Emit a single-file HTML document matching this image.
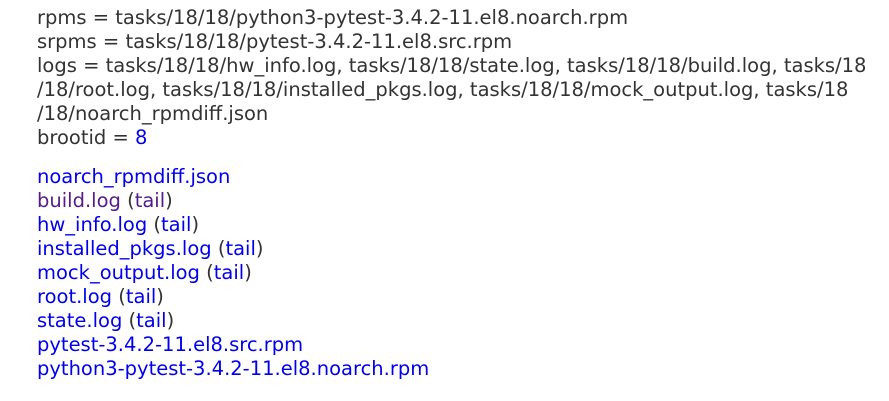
<!DOCTYPE html>
<html><head><meta charset="utf-8"><style>
html,body{margin:0;padding:0;background:#fff;}
body{width:889px;height:401px;overflow:hidden;font-family:"DejaVu Sans","Liberation Sans",sans-serif;font-size:19.5px;color:#333;}
.blk{position:absolute;left:37px;line-height:24px;white-space:nowrap;}
a{color:#0000ee;text-decoration:none;}
a.v{color:#551a8b;}
</style></head><body>
<div class="blk" style="top:6px">
rpms = tasks/18/18/python3-pytest-3.4.2-11.el8.noarch.rpm<br>
srpms = tasks/18/18/pytest-3.4.2-11.el8.src.rpm<br>
logs = tasks/18/18/hw_info.log, tasks/18/18/state.log, tasks/18/18/build.log, tasks/18<br>
/18/root.log, tasks/18/18/installed_pkgs.log, tasks/18/18/mock_output.log, tasks/18<br>
/18/noarch_rpmdiff.json<br>
brootid = <a>8</a>
</div>
<div class="blk" style="top:165px">
<a>noarch_rpmdiff.json</a><br>
<a class="v">build.log</a> (<a class="v">tail</a>)<br>
<a>hw_info.log</a> (<a>tail</a>)<br>
<a>installed_pkgs.log</a> (<a>tail</a>)<br>
<a>mock_output.log</a> (<a>tail</a>)<br>
<a>root.log</a> (<a>tail</a>)<br>
<a>state.log</a> (<a>tail</a>)<br>
<a>pytest-3.4.2-11.el8.src.rpm</a><br>
<a>python3-pytest-3.4.2-11.el8.noarch.rpm</a>
</div>
</body></html>
